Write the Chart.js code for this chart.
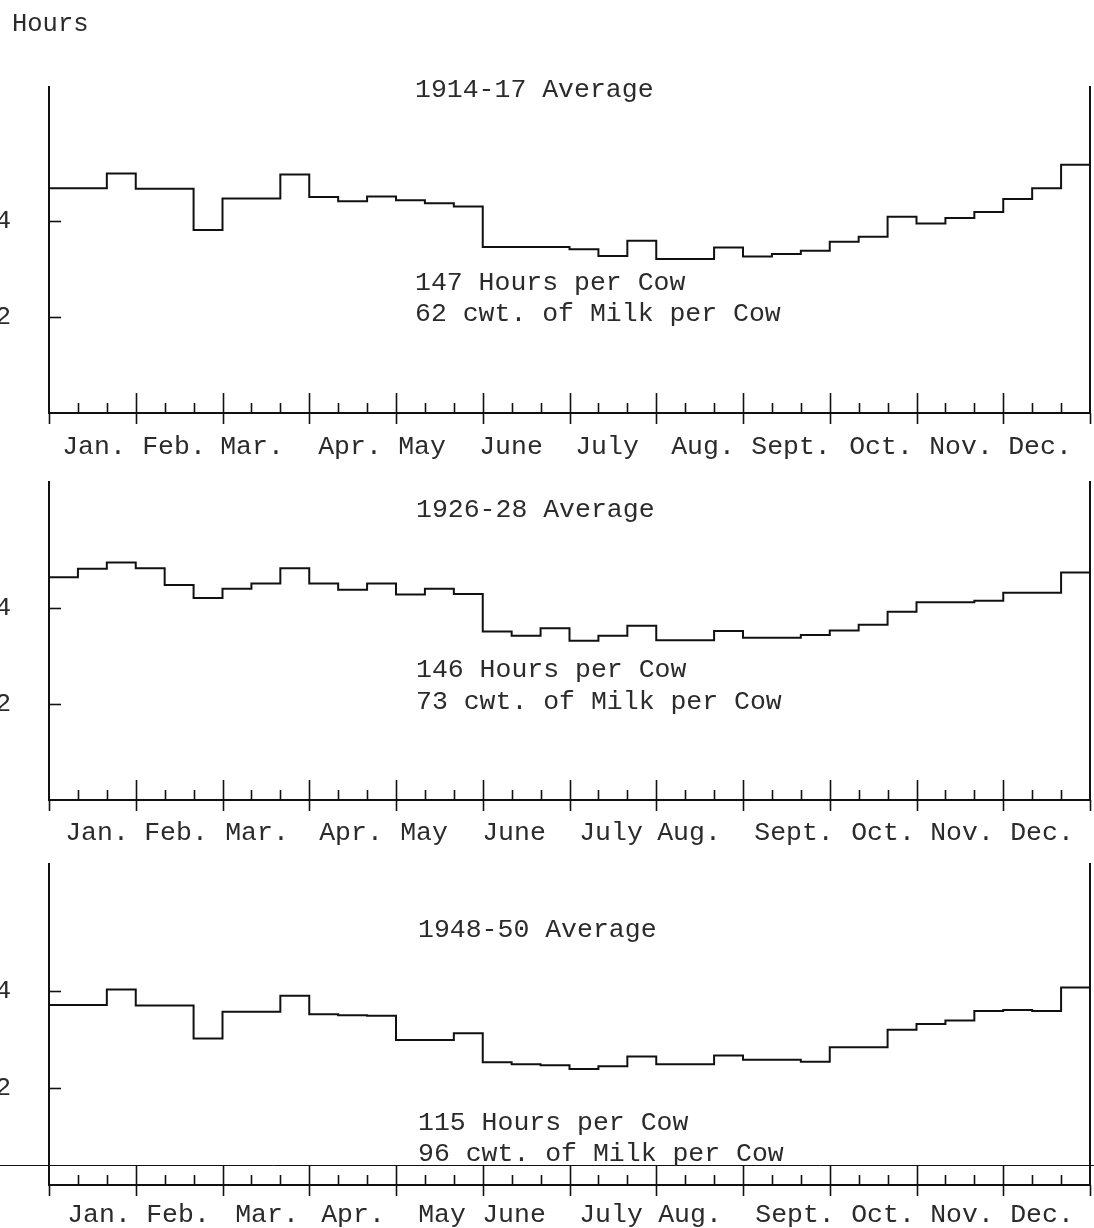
<!DOCTYPE html>
<html>
<head>
<meta charset="utf-8">
<script src="https://cdn.jsdelivr.net/npm/chart.js@4.4.1/dist/chart.umd.min.js"></script>
<style>
  html, body { margin: 0; padding: 0; background: #fff; }
  body { width: 1094px; height: 1228px; position: relative; overflow: hidden; }
  canvas { position: absolute; left: 0; }
</style>
</head>
<body>
<canvas id="p1" width="1094" height="470" style="top:0px"></canvas>
<canvas id="p2" width="1094" height="380" style="top:470px"></canvas>
<canvas id="p3" width="1094" height="378" style="top:850px"></canvas>
<script>
// Hours of labor per cow, one value per third of a month (36 periods)
const months = ['Jan.', 'Feb.', 'Mar.', 'Apr.', 'May', 'June', 'July', 'Aug.', 'Sept.', 'Oct.', 'Nov.', 'Dec.'];
const yTicks = [2, 4];

const hours1914 = [
  4.68, 4.68, 4.99,  4.67, 4.67, 3.81,  4.47, 4.47, 4.97,  4.50, 4.41, 4.51,
  4.43, 4.37, 4.30,  3.46, 3.46, 3.46,  3.41, 3.27, 3.59,  3.21, 3.21, 3.45,
  3.26, 3.31, 3.38,  3.57, 3.67, 4.09,  3.95, 4.06, 4.19,  4.46, 4.68, 5.17
];
const hours1926 = [
  4.64, 4.82, 4.95,  4.83, 4.48, 4.21,  4.40, 4.51, 4.83,  4.51, 4.38, 4.51,
  4.28, 4.40, 4.29,  3.51, 3.42, 3.58,  3.32, 3.42, 3.63,  3.33, 3.33, 3.52,
  3.38, 3.38, 3.44,  3.53, 3.65, 3.92,  4.12, 4.12, 4.15,  4.32, 4.32, 4.74
];
const hours1948 = [
  3.71, 3.71, 4.03,  3.70, 3.70, 3.02,  3.57, 3.57, 3.90,  3.52, 3.50, 3.49,
  2.99, 2.99, 3.13,  2.53, 2.49, 2.47,  2.39, 2.45, 2.65,  2.49, 2.49, 2.67,
  2.58, 2.58, 2.54,  2.84, 2.84, 3.20,  3.32, 3.39, 3.59,  3.61, 3.59, 4.07
];

const FONT = '"Liberation Mono", "Courier New", monospace';
const INK = '#2b2b2b';
const AREA_LEFT = 49, AREA_RIGHT = 1090;

// page layout of the three typed panels
const panels = [
  { id: 'p1', values: hours1914, title: '1914-17 Average',
    notes: ['147 Hours per Cow', '62 cwt. of Milk per Cow'],
    top: 0, height: 470, areaTop: 87, areaBottom: 413, unit: 48, labelPad: 18,
    titleY: 90, noteY: [283, 314], textX: 415, hoursLabel: true,
    labelX: [94, 174, 252, 350, 422, 511, 607, 703, 791, 881, 961, 1040] },
  { id: 'p2', values: hours1926, title: '1926-28 Average',
    notes: ['146 Hours per Cow', '73 cwt. of Milk per Cow'],
    top: 470, height: 380, areaTop: 482, areaBottom: 800, unit: 48, labelPad: 17,
    titleY: 510, noteY: [670, 702], textX: 416,
    labelX: [97, 176, 257, 351, 424, 514, 611, 689, 794, 883, 962, 1042] },
  { id: 'p3', values: hours1948, title: '1948-50 Average',
    notes: ['115 Hours per Cow', '96 cwt. of Milk per Cow'],
    top: 850, height: 378, areaTop: 864, areaBottom: 1185, unit: 48.5, labelPad: 14,
    titleY: 930, noteY: [1123, 1154], textX: 418, strayLine: 1165,
    labelX: [99, 178, 267, 353, 442, 514, 611, 690, 795, 883, 962, 1042] }
];

Chart.defaults.font.family = FONT;
Chart.defaults.color = INK;

function typedPlugin(p) {
  return {
    id: 'typed_' + p.id,
    afterDraw(chart) {
      const ctx = chart.ctx;
      const area = chart.chartArea;
      const x = chart.scales.x, y = chart.scales.y;
      ctx.save();
      ctx.strokeStyle = '#111';
      ctx.lineWidth = 1.6;
      // ten-day ticks along the base line, month ticks longer
      for (let k = 0; k <= 36; k++) {
        const px = Math.round(x.getPixelForValue(k)) + 0.5;
        ctx.beginPath();
        if (k % 3 === 0) {
          ctx.moveTo(px, (k === 0 || k === 36) ? area.bottom : area.bottom - 20);
          ctx.lineTo(px, area.bottom + 11);
        } else {
          ctx.moveTo(px, area.bottom - 10);
          ctx.lineTo(px, area.bottom);
        }
        ctx.stroke();
      }
      // inner ticks on the hours axis
      yTicks.forEach(v => {
        const py = Math.round(y.getPixelForValue(v)) + 0.5;
        ctx.beginPath();
        ctx.moveTo(area.left, py);
        ctx.lineTo(area.left + 12, py);
        ctx.stroke();
      });
      // stray rule across the bottom panel
      if (p.strayLine) {
        const py = p.strayLine - p.top + 0.5;
        ctx.lineWidth = 1;
        ctx.beginPath();
        ctx.moveTo(0, py);
        ctx.lineTo(chart.width, py);
        ctx.stroke();
      }
      // typed texts
      ctx.fillStyle = INK;
      ctx.font = '26.5px ' + FONT;
      ctx.textBaseline = 'middle';
      ctx.textAlign = 'left';
      ctx.fillText(p.title, p.textX, p.titleY - p.top);
      p.notes.forEach((t, i) => ctx.fillText(t, p.textX, p.noteY[i] - p.top));
      if (p.hoursLabel) {
        ctx.font = '25.5px ' + FONT;
        ctx.fillText('Hours', 12, 24);
      }
      ctx.restore();
    }
  };
}

panels.forEach(p => {
  const pts = p.values.map((v, i) => ({ x: i, y: v }));
  pts.push({ x: p.values.length, y: p.values[p.values.length - 1] });
  const perThird = (AREA_RIGHT - AREA_LEFT) / 36;
  const yMax = (p.areaBottom - p.areaTop) / p.unit;

  new Chart(document.getElementById(p.id), {
    type: 'line',
    data: {
      datasets: [{
        data: pts,
        stepped: true,
        borderColor: '#111',
        borderWidth: 2,
        pointRadius: 0,
        fill: false
      }]
    },
    options: {
      responsive: false,
      animation: false,
      devicePixelRatio: 1,
      layout: { padding: { top: p.areaTop - p.top, left: 0, right: 0, bottom: 0 } },
      plugins: { legend: { display: false }, tooltip: { enabled: false } },
      scales: {
        x: {
          type: 'linear', min: 0, max: 36,
          grid: { display: false, drawTicks: false },
          border: { display: true, color: '#111', width: 2 },
          afterBuildTicks: s => { s.ticks = p.labelX.map(px => ({ value: (px - AREA_LEFT) / perThird })); },
          afterFit: s => {
            s.height = p.height - (p.areaBottom - p.top);
            s.paddingLeft = 0; s.paddingRight = 0;
          },
          ticks: {
            autoSkip: false, maxRotation: 0, minRotation: 0, padding: p.labelPad,
            color: INK, font: { size: 26.5 },
            callback: (v, i) => months[i]
          }
        },
        y: {
          min: 0, max: yMax,
          grid: { display: false, drawTicks: false },
          border: { display: true, color: '#111', width: 2 },
          afterBuildTicks: s => { s.ticks = yTicks.map(v => ({ value: v })); },
          afterFit: s => {
            s.width = AREA_LEFT;
            s.paddingTop = 0; s.paddingBottom = 0;
          },
          ticks: { padding: 38, color: INK, font: { size: 26 }, callback: v => String(v) }
        },
        y2: {
          position: 'right', min: 0, max: yMax,
          grid: { display: false, drawTicks: false },
          border: { display: true, color: '#111', width: 2 },
          ticks: { display: false },
          afterFit: s => {
            s.width = 1094 - AREA_RIGHT;
            s.paddingTop = 0; s.paddingBottom = 0;
          }
        }
      }
    },
    plugins: [typedPlugin(p)]
  });
});
</script>
</body>
</html>
